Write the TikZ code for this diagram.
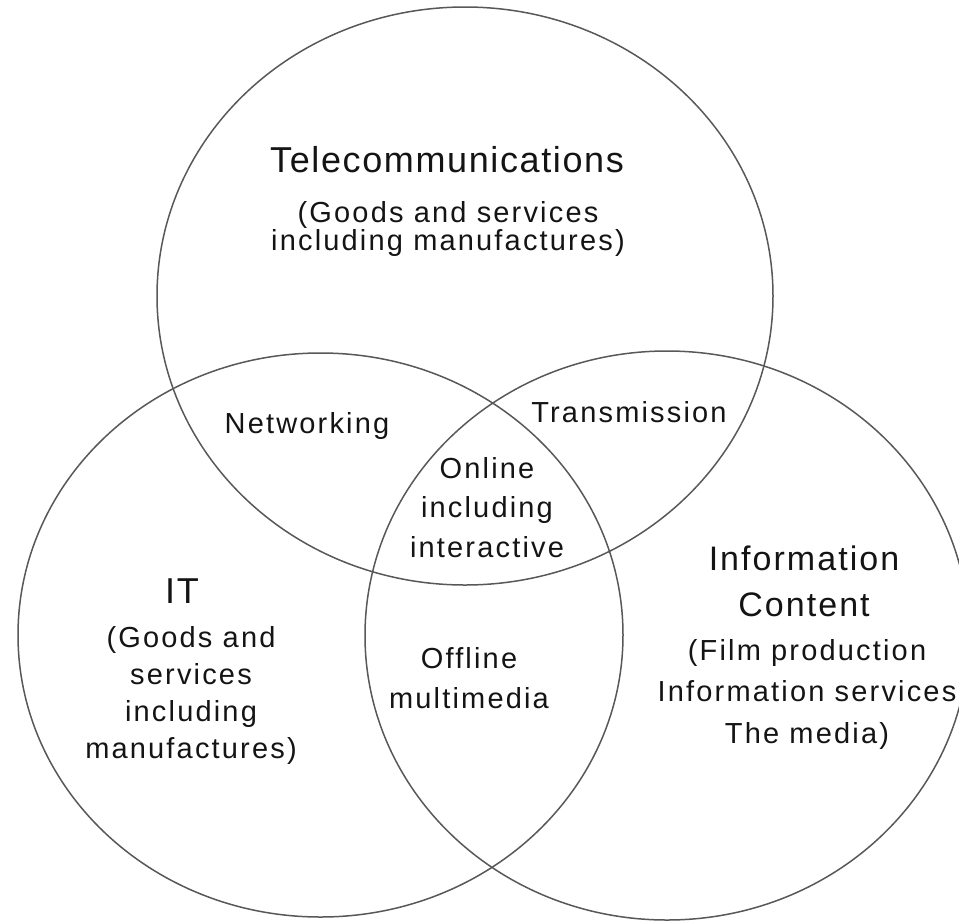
\documentclass[tikz,border=0pt]{standalone}
\usepackage{fontspec}
\setmainfont{Liberation Sans}[LetterSpace=7.5]
\definecolor{ringgray}{RGB}{88,88,88}
\definecolor{inkblack}{RGB}{20,20,20}
\begin{document}
\begin{tikzpicture}[x=1pt,y=-1pt,
  ring/.style={draw=ringgray, line width=1.5pt},
  % multi-line labels sit on the baseline of their last line
  lbl/.style={inner sep=0pt, align=center, anchor=base, text=inkblack},
  big/.style={lbl, font=\fontsize{36}{44}\selectfont\addfontfeature{LetterSpace=4.5}},
  small/.style={lbl, font=\fontsize{29}{#1}\selectfont},
  small/.default=40]
  \useasboundingbox (0,0) rectangle (959,922);
  \clip (0,0) rectangle (959,922);

  % the three sets
  \draw[ring] (465,296) ellipse [x radius=308pt, y radius=289pt];
  \draw[ring] (320.5,635) ellipse [x radius=302.5pt, y radius=282pt];
  \draw[ring] (667,635.5) ellipse [x radius=302pt, y radius=284.5pt];

  % set names and contents
  \node[big] (telecom) at (447,172) {Telecommunications};
  \node[small=28] (telecomdesc) at (448,250) {(Goods and services\\including manufactures)};

  \node[big] (it) at (182,603) {IT};
  \node[small=37] (itdesc) at (191,758) {(Goods and\\services\\including\\manufactures)};

  \node[lbl, font=\fontsize{34}{46}\selectfont\addfontfeature{LetterSpace=6}] (info) at (804,616) {Information\\Content};
  \node[small=41.5] (infodesc) at (807,743) {(Film production\\Information services\\The media)};

  % overlaps
  \node[small] (networking) at (307,433) {Networking};
  \node[small] (transmission) at (629,422) {Transmission};
  \node[small=39.5] (online) at (487,557) {Online\\including\\interactive};
  \node[small] (offline) at (469,708) {Offline\\multimedia};
\end{tikzpicture}
\end{document}
